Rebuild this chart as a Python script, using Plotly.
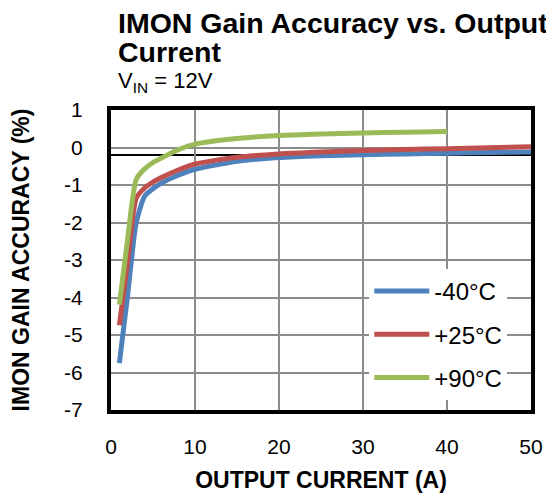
import plotly.graph_objects as go

# ---- data ----
current_a = [1, 2, 3, 4, 5, 6, 8, 10, 15, 20, 25, 30, 35, 40, 45, 50]
gain_m40 = [-5.75, -3.9, -2.0, -1.3, -1.1, -0.95, -0.74, -0.58, -0.37, -0.27, -0.22, -0.19, -0.17, -0.15, -0.135, -0.12]
gain_p25 = [-4.74, -3.0, -1.35, -1.08, -0.92, -0.8, -0.6, -0.44, -0.26, -0.17, -0.12, -0.08, -0.05, -0.03, -0.005, 0.02]
current_a_90 = [1, 2, 3, 4, 5, 6, 8, 10, 15, 20, 25, 30, 35, 40]
gain_p90 = [-4.19, -2.4, -0.85, -0.57, -0.4, -0.28, -0.06, 0.09, 0.24, 0.32, 0.36, 0.39, 0.41, 0.43]

series_names = ["-40°C", "+25°C", "+90°C"]
series_colors = ["#4F81BD", "#C0504D", "#9BBB59"]

x_ticks = [0, 10, 20, 30, 40, 50]
y_ticks = [1, 0, -1, -2, -3, -4, -5, -6, -7]
ref_line_y = -0.2

title_line1 = "IMON Gain Accuracy vs. Output"
title_line2 = "Current"
subtitle = "V<sub>IN</sub> = 12V"
x_title = "OUTPUT CURRENT (A)"
y_title = "IMON GAIN ACCURACY (%)"

FONT = "Arial, Liberation Sans, sans-serif"

fig = go.Figure()
for i, (xs, ys) in enumerate([(current_a, gain_m40), (current_a, gain_p25), (current_a_90, gain_p90)]):
    fig.add_trace(go.Scatter(
        x=xs, y=ys, mode="lines", name=series_names[i],
        legendgroup=series_names[i],
        line=dict(color=series_colors[i], width=5, shape="spline", smoothing=0.6),
    ))

fig.add_hline(y=ref_line_y, line=dict(color="black", width=2), layer="below")

fig.update_layout(
    width=546, height=493,
    margin=dict(l=102, r=11, t=102, b=86),
    paper_bgcolor="white", plot_bgcolor="white",
    font=dict(family=FONT, color="black", size=21),
    showlegend=True,
    legend=dict(
        x=0.615, y=0.47, xanchor="left", yanchor="top",
        bgcolor="white", borderwidth=0,
        font=dict(size=24, family=FONT),
        tracegroupgap=9, itemwidth=55,
    ),
    xaxis=dict(
        range=[0, 50], tickvals=x_ticks, ticktext=[str(v) for v in x_ticks],
        showgrid=True, gridcolor="#8C8C8C", gridwidth=1.5,
        showline=True, linecolor="black", linewidth=4, mirror=True,
        zeroline=False, ticks="", ticklabelstandoff=15,
        tickfont=dict(size=21),
        title=dict(text="<b>" + x_title + "</b>", font=dict(size=23), standoff=16),
    ),
    yaxis=dict(
        range=[-7, 1], tickvals=y_ticks, ticktext=[str(v) for v in y_ticks],
        showgrid=True, gridcolor="#8C8C8C", gridwidth=1.5,
        showline=True, linecolor="black", linewidth=4, mirror=True,
        zeroline=False, ticks="", ticklabelstandoff=20,
        tickfont=dict(size=21),
        title=dict(text="<b>" + y_title + "</b>", font=dict(size=23), standoff=29),
    ),
)

fig.add_annotation(text="<b>" + title_line1 + "</b>", xref="paper", yref="paper",
                   x=0.012, y=1.29, xanchor="left", yanchor="middle", showarrow=False,
                   font=dict(size=28.5, family=FONT))
fig.add_annotation(text="<b>" + title_line2 + "</b>", xref="paper", yref="paper",
                   x=0.012, y=1.193, xanchor="left", yanchor="middle", showarrow=False,
                   font=dict(size=28.5, family=FONT))
fig.add_annotation(text=subtitle, xref="paper", yref="paper",
                   x=0.012, y=1.094, xanchor="left", yanchor="middle", showarrow=False,
                   font=dict(size=22, family=FONT))

fig.write_html("out.html")
